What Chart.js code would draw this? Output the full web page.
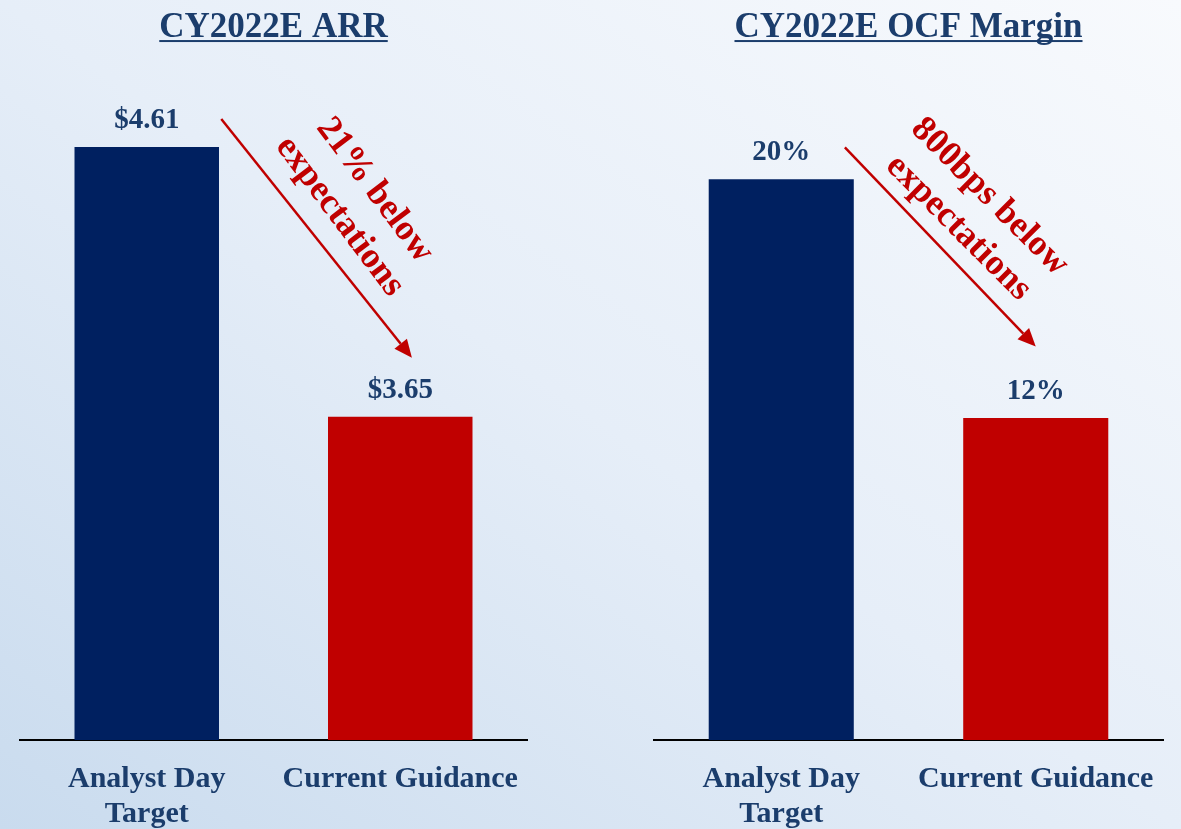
<!DOCTYPE html>
<html>
<head>
<meta charset="utf-8">
<script src="https://cdn.jsdelivr.net/npm/chart.js@4.4.1/dist/chart.umd.min.js"></script>
<style>
  html, body { margin: 0; padding: 0; }
  body {
    width: 1181px; height: 829px; overflow: hidden; position: relative;
    background: linear-gradient(to top right, #c9dbee 0%, #e6eef8 50%, #f8fafd 100%);
  }
  .panel { position: absolute; top: 0; height: 829px; }
  #leftPanel { left: 0; width: 590px; }
  #rightPanel { left: 590px; width: 591px; }
</style>
</head>
<body>
<div class="panel" id="leftPanel"><canvas id="arrChart"></canvas></div>
<div class="panel" id="rightPanel"><canvas id="ocfChart"></canvas></div>
<script>
// data
const categories = [['Analyst Day', 'Target'], 'Current Guidance'];
const arrValues = [4.61, 3.65];
const arrLabels = ['$4.61', '$3.65'];
const ocfValues = [20, 12];
const ocfLabels = ['20%', '12%'];
const barColors = ['#002060', '#c00000'];

const NAVY_TEXT = '#1b3d6c';
const RED = '#c00000';
const SERIF = "'Liberation Serif', 'DejaVu Serif', serif";

// value labels, title underline and the red callout
const decorations = {
    id: 'decorations',
    afterDraw(chart, args, opts) {
        const ctx = chart.ctx;
        const xs = chart.scales.x, ys = chart.scales.y;

        // underline the title
        const tb = chart.titleBlock;
        if (tb) {
            const tOpts = chart.options.plugins.title;
            const font = Chart.helpers.toFont(tOpts.font);
            ctx.save();
            ctx.font = font.string;
            const w = ctx.measureText(tOpts.text).width;
            const midY = tb.top + tOpts.padding.top + font.lineHeight / 2;
            ctx.textBaseline = 'middle';
            const desc = ctx.measureText('E').actualBoundingBoxDescent;
            const cx = (tb.left + tb.right) / 2;
            ctx.fillStyle = NAVY_TEXT;
            ctx.fillRect(cx - w / 2, midY + desc + 3, w, 2);
            ctx.restore();
        }

        // value labels above bars
        ctx.save();
        ctx.font = "bold 29px " + SERIF;
        ctx.fillStyle = NAVY_TEXT;
        ctx.textAlign = 'center';
        ctx.textBaseline = 'alphabetic';
        chart.getDatasetMeta(0).data.forEach((bar, i) => {
            ctx.fillText(opts.labels[i], bar.x, bar.y - 19);
        });
        ctx.restore();

        // arrow
        const c = opts.callout;
        const x0 = xs.getPixelForValue(c.from[0]), y0 = ys.getPixelForValue(c.from[1]);
        const x1 = xs.getPixelForValue(c.to[0]), y1 = ys.getPixelForValue(c.to[1]);
        const ang = Math.atan2(y1 - y0, x1 - x0);
        const headLen = 18, headW = 8;
        ctx.save();
        ctx.strokeStyle = RED;
        ctx.fillStyle = RED;
        ctx.lineWidth = 2.5;
        ctx.beginPath();
        ctx.moveTo(x0, y0);
        ctx.lineTo(x1 - Math.cos(ang) * headLen, y1 - Math.sin(ang) * headLen);
        ctx.stroke();
        ctx.translate(x1, y1);
        ctx.rotate(ang);
        ctx.beginPath();
        ctx.moveTo(0, 0);
        ctx.lineTo(-headLen, -headW);
        ctx.lineTo(-headLen, headW);
        ctx.closePath();
        ctx.fill();
        ctx.restore();

        // rotated text
        const tx = xs.getPixelForValue(c.center[0]), ty = ys.getPixelForValue(c.center[1]);
        ctx.save();
        ctx.translate(tx, ty);
        ctx.rotate(c.angle * Math.PI / 180);
        ctx.font = "bold 36px " + SERIF;
        ctx.fillStyle = RED;
        ctx.textAlign = 'center';
        ctx.textBaseline = 'middle';
        const lh = 44;
        c.text.forEach((line, i) => {
            ctx.fillText(line, 0, (i - (c.text.length - 1) / 2) * lh);
        });
        ctx.restore();
    }
};

function makeChart(id, title, values, labels, yMin, yMax, padLeft, padRight, callout) {
    return new Chart(document.getElementById(id), {
        type: 'bar',
        data: {
            labels: categories,
            datasets: [{
                data: values,
                backgroundColor: barColors,
                borderWidth: 0,
                barPercentage: 0.57,
                categoryPercentage: 1
            }]
        },
        options: {
            responsive: true,
            maintainAspectRatio: false,
            animation: false,
            layout: { padding: { left: padLeft, right: padRight, top: 0, bottom: 0 } },
            scales: {
                x: {
                    grid: { display: false, drawTicks: false },
                    border: { display: true, color: '#000000', width: 2 },
                    ticks: {
                        color: NAVY_TEXT,
                        font: { family: SERIF, size: 30, weight: 'bold', lineHeight: 1.15 },
                        padding: 22,
                        maxRotation: 0,
                        autoSkip: false
                    },
                    afterFit: (scale) => { scale.height = 89; }
                },
                y: { display: false, min: yMin, max: yMax }
            },
            plugins: {
                legend: { display: false },
                tooltip: { enabled: false },
                title: {
                    display: true,
                    text: title,
                    color: NAVY_TEXT,
                    font: { family: SERIF, size: 35, weight: 'bold', lineHeight: 1.2 },
                    padding: { top: 7, bottom: 11 }
                },
                decorations: { labels: labels, callout: callout }
            }
        },
        plugins: [decorations]
    });
}

makeChart('arrChart', 'CY2022E ARR', arrValues, arrLabels, 2.5, 4.92, 20, 63, {
    from: [0.294, 4.71], to: [1.046, 3.86],
    center: [0.83, 4.41], angle: 53,
    text: ['21% below', 'expectations']
});

makeChart('ocfChart', 'CY2022E OCF Margin', ocfValues, ocfLabels, 1.2, 24, 64, 18, {
    from: [0.25, 21.07], to: [1.0, 14.39],
    center: [0.757, 18.89], angle: 45,
    text: ['800bps below', 'expectations']
});
</script>
</body>
</html>
